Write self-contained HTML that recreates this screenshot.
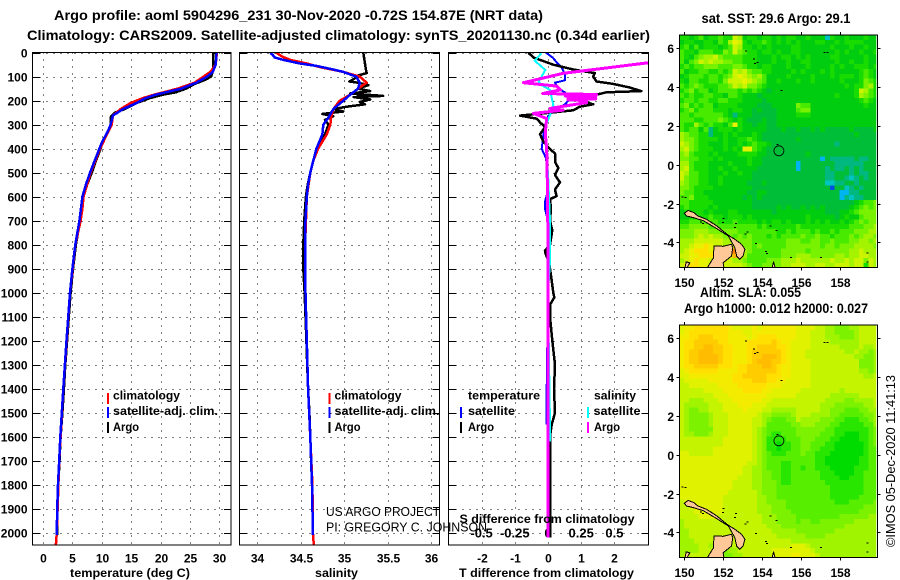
<!DOCTYPE html>
<html lang="en">
<head>
<meta charset="utf-8">
<title>Argo profile</title>
<style>
html,body{margin:0;padding:0;background:#fff;width:900px;height:580px;overflow:hidden}
svg{display:block}
text{font-family:"Liberation Sans",sans-serif;fill:#000}
.b{font-weight:bold;font-size:12px}
.s{font-weight:bold;font-size:13px}
.t{font-weight:bold;font-size:13.5px}
.n{font-weight:normal;font-size:13px}
</style>
</head>
<body>
<svg id="root" xmlns="http://www.w3.org/2000/svg" width="900" height="580" viewBox="0 0 900 580">
<defs>
<clipPath id="c1"><rect x="33" y="53" width="198" height="492"/></clipPath>
<clipPath id="c2"><rect x="240" y="53" width="199.5" height="492"/></clipPath>
<clipPath id="c3"><rect x="449" y="53" width="199" height="492"/></clipPath>
<clipPath id="m1"><rect x="679.3" y="35" width="197" height="232.3"/></clipPath>
<clipPath id="m2"><rect x="679.3" y="325" width="197" height="232.3"/></clipPath>
</defs>
<rect x="0" y="0" width="900" height="580" fill="#fff"/>

<text class="t" x="54" y="20" textLength="489" lengthAdjust="spacingAndGlyphs">Argo profile: aoml 5904296_231 30-Nov-2020 -0.72S 154.87E (NRT data)</text>
<text class="t" x="27" y="40" textLength="623" lengthAdjust="spacingAndGlyphs">Climatology: CARS2009. Satellite-adjusted climatology: synTS_20201130.nc (0.34d earlier)</text>

<g id="panel1"></g>
<g id="panel2"></g>
<g id="panel3"></g>
<g id="map1"></g>
<g id="map2"></g>

<text class="b" x="70" y="577" textLength="120" lengthAdjust="spacingAndGlyphs">temperature (deg C)</text>
<text class="b" x="315" y="577" textLength="43" lengthAdjust="spacingAndGlyphs">salinity</text>
<text class="b" x="459" y="577" textLength="175" lengthAdjust="spacingAndGlyphs">T difference from climatology</text>
<text class="b" x="459.5" y="523" textLength="175" lengthAdjust="spacingAndGlyphs">S difference from climatology</text>

<g>
<rect x="107" y="393" width="2" height="11" fill="#f00"/>
<text class="b" x="113" y="399.5" textLength="67" lengthAdjust="spacingAndGlyphs">climatology</text>
<rect x="107" y="407" width="2" height="11" fill="#00f"/>
<text class="b" x="113" y="415" textLength="105" lengthAdjust="spacingAndGlyphs">satellite-adj. clim.</text>
<rect x="107" y="422" width="2" height="11" fill="#000"/>
<text class="b" x="113" y="431" textLength="26" lengthAdjust="spacingAndGlyphs">Argo</text>
</g>
<g>
<rect x="328.5" y="393" width="2" height="11" fill="#f00"/>
<text class="b" x="334.5" y="399.5" textLength="67" lengthAdjust="spacingAndGlyphs">climatology</text>
<rect x="328.5" y="407" width="2" height="11" fill="#00f"/>
<text class="b" x="334.5" y="415" textLength="105" lengthAdjust="spacingAndGlyphs">satellite-adj. clim.</text>
<rect x="328.5" y="422" width="2" height="11" fill="#000"/>
<text class="b" x="334.5" y="431" textLength="26" lengthAdjust="spacingAndGlyphs">Argo</text>
</g>
<g>
<text class="b" x="468" y="399.5" textLength="72" lengthAdjust="spacingAndGlyphs">temperature</text>
<rect x="460" y="407" width="2" height="11" fill="#00f"/>
<text class="b" x="468" y="415" textLength="47" lengthAdjust="spacingAndGlyphs">satellite</text>
<rect x="460" y="422" width="2" height="11" fill="#000"/>
<text class="b" x="468" y="431" textLength="26" lengthAdjust="spacingAndGlyphs">Argo</text>
<text class="b" x="594" y="399.5" textLength="42" lengthAdjust="spacingAndGlyphs">salinity</text>
<rect x="587" y="407" width="2" height="11" fill="#0ff"/>
<text class="b" x="593.5" y="415" textLength="47" lengthAdjust="spacingAndGlyphs">satellite</text>
<rect x="587" y="422" width="2" height="11" fill="#f0f"/>
<text class="b" x="594" y="431" textLength="26" lengthAdjust="spacingAndGlyphs">Argo</text>
</g>

<text class="n" x="326" y="516" textLength="114" lengthAdjust="spacingAndGlyphs">US ARGO PROJECT</text>
<text class="n" x="326" y="531.5" textLength="161" lengthAdjust="spacingAndGlyphs">PI: GREGORY C. JOHNSON</text>

<text class="t" x="701.5" y="23" textLength="149" lengthAdjust="spacingAndGlyphs">sat. SST: 29.6 Argo: 29.1</text>
<text class="t" x="700" y="297" textLength="101" lengthAdjust="spacingAndGlyphs">Altim. SLA: 0.055</text>
<text class="t" x="684" y="313" textLength="184" lengthAdjust="spacingAndGlyphs">Argo h1000: 0.012 h2000: 0.027</text>
<text class="n" transform="translate(895,547) rotate(-90)" textLength="172" lengthAdjust="spacingAndGlyphs">©IMOS 05-Dec-2020 11:41:13</text>
</svg>

<script>
// ---------- tick labels ----------
const depthTicks = [0,100,200,300,400,500,600,700,800,900,1000,1100,1200,1300,1400,1500,1600,1700,1800,1900,2000];
const tempTicks = [0,5,10,15,20,25,30];
const salTicks = [34,34.5,35,35.5,36];
const diffTTicks = [-2,-1,0,1,2];
const diffSTicks = [-0.5,-0.25,0,0.25,0.5];
const lonTicks = [150,152,154,156,158];
const latTicks = [6,4,2,0,-2,-4];

// ---------- temperature panel ----------
const tempArgoDepth = [0,70,100,115,130,150,165,175,190,210,235,250,262,270,300,330,370,400,450,500,550,600,700,800,900,1000,1100,1200,1300,1400,1500,1600,1700,1800,1900,2000,2010];
const tempArgo = [29,29,28.6,27.4,25.8,24.3,22.6,20.4,18.1,15.9,13.9,12.2,11.7,11.5,11.5,11,10.2,9.8,9,8.3,7.5,6.9,6.3,5.6,5.1,4.7,4.4,4.1,3.8,3.55,3.3,3,2.8,2.6,2.45,2.4,2.38];
const tempSatDepth = [0,50,80,100,125,150,175,190,210,235,262,300,330,370,400,450,500,550,600,700,800,900,1000,1200,1400,1500,1600,1700,1800,1900,2000,2010];
const tempSat = [29.55,29.4,28.9,27.9,26.1,23.5,19.2,17.4,15.9,13.6,11.9,11.5,11,10.1,9.6,8.8,8,7.3,6.7,6.2,5.5,5,4.6,4,3.45,3.2,2.95,2.75,2.55,2.42,2.35,2.34];
const tempClimDepth = [0,50,80,100,125,150,175,190,210,235,262,300,370,400,500,600,650,700,800,1000,1400,1700,2000,2050];
const tempClim = [29.6,29.4,28.5,27.3,25.8,22.9,18.9,16.9,14.9,13.2,11.9,11.7,10.3,9.7,8.1,6.9,6.7,6.4,5.5,4.6,3.45,2.75,2.35,2.2];

// ---------- salinity panel ----------
const salArgoDepth = [0,70,85,95,110,120,125,135,150,160,170,180,185,195,205,215,225,235,245,255,265,280,300,340,400,450,500,550,600,700,800,900,1000,1100,1200,1300,1400,1500,1600,1700,1800,1900,2000,2010];
const salArgo = [35.22,35.25,35.26,35.16,35.11,35.06,35.16,35.28,35.16,35.30,35.07,35.45,35.11,35.30,35.18,35.24,35.03,34.875,34.99,34.75,34.875,34.78,34.82,34.78,34.68,34.645,34.61,34.58,34.56,34.54,34.53,34.53,34.545,34.555,34.565,34.575,34.585,34.6,34.61,34.62,34.63,34.637,34.64,34.64];
const salSatDepth = [0,10,20,30,45,55,70,80,100,125,150,175,200,235,270,300,340,400,450,500,550,600,700,800,900,1000,1200,1400,1600,1800,2000,2010];
const salSat = [34.15,34.18,34.2,34.3,34.49,34.68,34.875,34.99,35.14,35.18,35.16,35.07,34.99,34.875,34.82,34.76,34.75,34.68,34.645,34.61,34.585,34.57,34.555,34.55,34.55,34.555,34.57,34.585,34.61,34.63,34.64,34.64];
const salClimDepth = [0,15,30,45,60,80,100,125,150,175,200,235,270,300,340,400,450,500,600,800,1000,1400,1800,2000,2050];
const salClim = [34.22,34.28,34.38,34.57,34.72,34.99,35.18,35.26,35.16,35.07,34.95,34.875,34.85,34.84,34.8,34.7,34.645,34.61,34.57,34.55,34.555,34.585,34.635,34.64,34.65];

// ---------- difference panel ----------
const diffTArgoDepth = [0,20,35,50,70,85,100,120,130,145,160,165,175,190,215,225,240,250,262,275,290,310,340,370,395,420,455,480,510,540,570,598,610,650,700,740,800,825,840,870,900,950,1000,1020,1050,1100,1200,1300,1400,1500,1550,1600,1700,1800,1900,2000,2020];
const diffTArgo = [-.59,-.44,-.14,.16,.76,1.41,1.36,1.46,1.96,2.46,2.81,1.76,1.46,.66,1.36,.96,.76,.06,-.84,-.34,-.24,-.09,-.24,-.14,.01,.21,.21,.31,.21,.36,.21,.26,.06,.09,.06,.13,.06,-.09,-.07,.03,.06,.11,.16,.19,.06,.06,.13,.21,.18,.21,.11,.06,.06,.06,.06,.06,.06];
const diffTSatDepth = [0,20,40,60,90,115,125,150,165,180,200,215,245,265,300,340,400,440,500,570,620,650,700,1000,1400,1550];
const diffTSat = [-.06,.14,.26,.41,.51,.51,.21,.31,.51,.61,.61,.51,.16,0,-.09,-.14,-.19,-.06,-.02,.01,-.09,-.09,0,0,-.04,-.04];
const diffSSatDepth = [3,33,72,121,135,155,218,260,301,364,500,700,870,1000,1550,1620];
const diffSSat = [-.05,-.10,-.02,-.07,-.05,.015,.04,.015,-.015,-.02,0,.015,.015,0,.015,.015];
const diffSArgoDepth = [0,30,42,86,125,139,155,170,174,180,184,188,192,196,200,208,232,239,253,274,301,336,405,530,800,1200,2020];
const diffSArgo = [1,.84,.7525,.115,-.185,.065,.095,-.04,.365,.13,.36,.15,.36,.15,.29,.29,.015,.115,-.11,-.01,-.015,-.02,-.01,-.005,0,0,0];

// ---------- map cell levels (one hex digit per 1/4 degree cell, north to south) ----------
const sstRows = [
"6656756676 6a95665665 6566556555 2655655565 5",
"5665566576 9ba6566765 6565655566 5565666655 5",
"6757566656 7a96656565 5556655555 5655565565 5",
"7665777668 7a87665665 6556655555 5565655655 6",
"7657899a87 7776665556 5665656555 5665555565 5",
"7578a9a998 8776665556 5565566555 5565565565 5",
"6767788877 7887665665 5565556555 5656556665 6",
"7566776676 7a9a877665 5556565556 5655555676 5",
"5677767767 8aba989755 5565555655 5656665676 5",
"6577667768 aaaba98755 6555655655 5556555687 6",
"7678766677 8a9a887655 5555555555 5555656689 6",
"6786775677 7767676545 5555555555 5555556a97 6",
"7676677665 7765554555 5555555555 5565556987 6",
"6776776677 6665555455 5555555555 5555555676 5",
"7867677566 6655554445 5555877555 5555555565 5",
"6786777666 5665545444 5555788555 5555555555 5",
"7767777776 5355544444 5555666555 5555555555 5",
"7776677787 6565444544 5555555555 5555555555 5",
"7669767665 7b65545544 5555555555 5555555555 5",
"7677573566 6565555544 4544544545 4444454444 5",
"9877663556 5655565444 4444444444 4444445444 4",
"9887666656 5566765444 4444544444 4444444444 4",
"a987665556 5565676654 4444444444 4434444444 4",
"9a87666556 565bb76544 4444444444 4444444444 4",
"8976665655 5566665544 4444445444 4444444444 4",
"8877666565 5555655444 4444444441 4333334334 4",
"9976665555 6555655444 4444144444 4433333344 4",
"9a76665565 5655554444 4444144444 3433434344 4",
"a977665556 5565544444 4444444444 3344434334 4",
"a877665565 5555544444 4444444444 3344323434 4",
"9877665565 5555444544 4444444444 2233443444 4",
"8876666555 5555544444 4444444444 4044234344 4",
"8776655555 5555445544 4444444444 4441133444 4",
"7786665555 5554545444 4444444444 4441323344 4",
"7766666555 5555544444 4444444444 4444445677 8",
"6766665655 5555544444 5454454545 4444456787 8",
"5666656555 6655555554 5555555555 4445567888 8",
"5566667665 6665655555 5555556555 5545655788 8",
"6677777766 6766665656 6565556565 6556567878 8",
"7788887777 7777776766 6666766666 6666677788 9",
"8889998888 8877777777 6676777676 6767778889 9",
"8889a9a998 8787877767 6777787787 7677787899 8",
"999aaaaaa9 9988877777 7788877887 7877788998 9",
"99abbcbaa9 aa98878777 7788888887 8878889999 8",
"9abcccbbaa aea9877777 7888887888 8888899a99 9",
"aabbcccbba ade9777777 7888999888 8899899aa9 9",
"9abcbbaaaa a998777788 8999a99999 9a99a9aa8a 9",
"abccbbaaaa aaa9877888 899aaa99aa 99aaa9aa6a 9"
];
const slaRows = [
"bccddddddd cbbbbcbccc ccccbbbbaa 9988899aaa a",
"bcdddddddd cccbbccccc ccccbbbaaa 9988889aaa a",
"ccddeeeddd ccccbcdddd ccccbbbaaa 9998889aaa a",
"cddeeeeedd ccccddddde dccbbbbaaa a999999aaa a",
"cddeeffeed dcccddeeee ddcbbbbaaa aaa9999a99 a",
"cdeefffeed dcccdeeeee edcbbbaaaa aaaa99a998 9",
"cdeeffffed dcccdeefff edcbbbaaaa aaaaaa9988 9",
"cdeeffffed dcccdefffe edcbbbbaaa aaaaaaa888 9",
"cddeeeeedd dcddeeeffe dccbbbbaaa aaaaaaa888 9",
"bcddddddcc ccddeeeeee dccbbbbaaa aaaaaaa998 9",
"bbcccccccc cddeeeeedd dccbbbbaaa aaaaaaaa99 a",
"abbbbbcccc cddddeeedd ccbbbbbaaa aaaaaaaaaa a",
"aabbbbbbcc ccddddddcc cbbbbbbaaa aaaaaaaaaa a",
"aaaaabbbbc cccddddccb bbbbbaaaaa aaa9aaaaaa a",
"aaaaaaabbb ccccccccbb bbbbaaaaaa a999999aaa a",
"aa999aaabb bccccccbba aaaaaaaaaa 9999889999 a",
"a99999aaab bbcccbbbaa aaaaaaaaa9 9988888899 a",
"a98899aaab bbbcbbbaa9 9999aaaaa9 9888777889 9",
"a988889aaa bbbbbba998 8889aaa999 9887777788 9",
"a988889aaa bbbbbaa987 7788a99998 8877666778 9",
"a988889aaa bbbbbaa977 7778899988 8776666677 9",
"a988888aaa bbbbba9877 7777888888 7766666667 8",
"a998889aaa bbbbba9876 6777888887 7766555667 8",
"aaaaaaaaab bbbbba9866 6677788877 7665555667 8",
"aaaaaaaaab bbbbba9866 5667788777 6655555567 8",
"aaaaaaabbb bbbbba9866 5667788776 6655555567 7",
"bbaaaaabbb bbbbba9876 6677787766 6555555567 7",
"bbbbbbbbbb bbbbba9877 7777777766 5555555667 7",
"bbbbbbbbbb bbbbaa9877 7667777766 5555555667 7",
"bbbbbbbbbb bbbaa99877 7667767766 6555556667 7",
"bbbbbbbbbb bbbaa99887 7667777776 6655556677 7",
"bbbbbbbbbb bbaaa99887 7667777776 6665566677 7",
"bbbbbbbbbb baaaa99888 7667777777 6666666677 7",
"bbbbbbbbbb baaaa99888 7777777777 7666666677 7",
"bbbbbbbbbb aaaaaa9888 7777777777 7666666677 7",
"bbbbbbbbba aaaaaa9988 7777777777 7666666777 7",
"abbbbbbbba aaaaaa9988 8877777777 7766677777 8",
"aabbbbbbba aaaaaa9998 8877777777 7777777788 8",
"aaabbbbbba aaaaaa9998 8887777777 7777777888 8",
"aaaabbbbaa aaaaaaa999 8888777777 7778888889 9",
"9aaaaaaaaa aaaaaaa999 8888788778 8888889999 9",
"9aaaaaaaaa aaaaaaaa99 9888888888 8888999999 9",
"99aaaaaaaa aaaaaaaaa9 9999888888 8899999999 9",
"99aaaaaaaa aaaaaaaaaa 9999998888 9999999999 9",
"999aaaa99a aaaaaaaaaa aaa9999999 9999999999 9",
"9999aa9999 9aaaaaaaaa aaabbba999 9999999999 9",
"9999aaa998 99aaaaaaab bbbbbbba99 9999999999 9",
"9aaaaaa988 899aaaaaab bbbccbbba9 9999999999 9"
];

// ---------- geography (lon, lat) ----------
const landLonNewIreland = [150,150.2,150.5,150.7,151.15,151.67,152.2,152.6,152.95,153.12,153.03,152.86,152.7,152.6,152.27,151.67,150.98,150.46,150.12];
const landLatNewIreland = [-2.5,-2.35,-2.47,-2.64,-2.81,-3.15,-3.58,-3.84,-4.1,-4.35,-4.7,-4.87,-4.7,-4.27,-3.67,-3.29,-2.88,-2.72,-2.64];
const landLonNewBritain = [151.06,151.5,151.53,152.0,152.43,152.5,152.43,152.0,152.08];
const landLatNewBritain = [-5.5,-4.8,-4.18,-4.2,-4.1,-4.27,-4.7,-5.05,-5.5];
const landLonBuka = [154.47,154.6,154.72];
const landLatBuka = [-5.5,-5.0,-5.5];
const landLonSmall = [150,150.1,150.28,150.1];
const landLatSmall = [-5.5,-5.0,-5.05,-5.4];
const islandLon = [153.12,153.55,153.72,153.6,154.96,157.16,157.33,154.75,149.86,150,150.8,151.97,151.95,152.6,152.55,153.2,153.1,153.64,154.15,154.2,154.4,154.7,155.44,156.98,159.39,159.39,150.9];
const islandLat = [5.88,5.49,5.31,5.25,3.85,5.81,5.81,1.06,-1.64,-1.67,-2.93,-2.75,-2.95,-3.0,-3.2,-3.44,-3.55,-4.04,-4.44,-4.55,-3.13,-3.35,-4.74,-4.74,-4.52,-4.98,-3.0];
const floatLon = [154.87];
const floatLat = [0.72];

// ---------- axis functions ----------
const yDepth = d => 52.7 + d * 0.24;
const xTemp = t => 43 + t * 5.875;
const xSal = s => 257.3 + (s - 34) * 86.85;
const xDiffT = v => 548 + v * 33.2;
const xDiffS = v => 548 + v * 132.8;
const xLon = lon => 684.3 + (lon - 150) * 19.42;
const yLat = (lat, off) => 164.8 + off - lat * 19.4;

// ---------- colour scales ----------
function sstColor(level) {
  return ["#0050e0","#00b4f0","#00c4c0","#00b880","#00be38","#00cc10","#18dc00","#48ea00","#78f200","#a4f400","#ccf400","#e8f200","#ffe000","#ffb000","#ff8000"][level];
}
function slaColor(level) {
  return ["#00c000","#00c000","#00c000","#00c000","#00c800","#00dc00","#28e600","#58ee00","#7cf200","#a0f400","#c4f400","#e0f200","#f4ec00","#ffe000","#ffcc00","#ffbc00"][level];
}

const SVGNS = "http://www.w3.org/2000/svg";
function make(parent, tag, name, interactable) {
  const el = document.createElementNS(SVGNS, tag);
  
  
  parent.appendChild(el);
  return el;
}
function addLine(parent, name, x1, y1, x2, y2, width, dash) {
  const l = make(parent, 'line', name, 'false');
  l.setAttribute('x1', x1); l.setAttribute('y1', y1);
  l.setAttribute('x2', x2); l.setAttribute('y2', y2);
  l.setAttribute('stroke', '#000');
  l.setAttribute('stroke-width', width);
  l.setAttribute('shape-rendering', 'crispEdges');
  if (dash) l.setAttribute('stroke-dasharray', dash);
  return l;
}
function addText(parent, name, str, x, y, anchor, extraClass) {
  const t = make(parent, 'text', name, 'false');
  t.setAttribute('class', extraClass || 'b');
  t.setAttribute('x', x);
  t.setAttribute('y', y);
  t.setAttribute('text-anchor', anchor);
  t.textContent = str;
  return t;
}
function addSeries(parent, name, depths, values, xFn, color, width, clip) {
  const pts = depths.map((d, i) => xFn(values[i]).toFixed(1) + ',' + yDepth(d).toFixed(1)).join(' ');
  const p = make(parent, 'polyline', name, 'false');
  p.setAttribute('points', pts);
  p.setAttribute('fill', 'none');
  p.setAttribute('stroke', color);
  p.setAttribute('stroke-width', width);
  p.setAttribute('stroke-linejoin', 'round');
  p.setAttribute('clip-path', 'url(#' + clip + ')');
  p.setAttribute('shape-rendering', 'crispEdges');
}
function addFrame(parent, name, x, y, w, h) {
  const r = make(parent, 'rect', name, 'false');
  r.setAttribute('x', x); r.setAttribute('y', y);
  r.setAttribute('width', w); r.setAttribute('height', h);
  r.setAttribute('fill', 'none');
  r.setAttribute('stroke', '#000');
  r.setAttribute('stroke-width', 1);
  r.setAttribute('shape-rendering', 'crispEdges');
}
const DOTS = '1 6';
function drawPanel(g, left, right, xTicks, xFn, xLabels, showDepthLabels) {
  const top = 52.5, bottom = 545;
  depthTicks.forEach(d => {
    const y = Math.round(yDepth(d));
    addLine(g, 'depth-gridline-' + d, left, y + .5, right, y + .5, 1, DOTS);
    addLine(g, 'depth-tick-left-' + d, left, y + .5, left + 7, y + .5, 1);
    addLine(g, 'depth-tick-right-' + d, right - 7, y + .5, right, y + .5, 1);
    if (showDepthLabels) addText(g, 'depth-label-' + d, String(d), 27.5, y + 4.5, 'end');
  });
  xTicks.forEach((v, i) => {
    const x = Math.round(xFn(v));
    addLine(g, 'x-gridline-' + v, x + .5, top, x + .5, bottom, 1, DOTS);
    addText(g, 'x-label-' + v, xLabels[i], x + .5, 562.5, 'middle');
  });
}

// panels
const p1 = document.getElementById('panel1');
drawPanel(p1, 32.5, 231, tempTicks, xTemp, tempTicks.map(String), true);
addSeries(p1, 'temperature-argo-line', tempArgoDepth, tempArgo, xTemp, '#000', 2.5, 'c1');
addSeries(p1, 'temperature-climatology-line', tempClimDepth, tempClim, xTemp, '#f00', 2.5, 'c1');
addSeries(p1, 'temperature-satellite-line', tempSatDepth, tempSat, xTemp, '#00f', 2.5, 'c1');
addFrame(p1, 'temperature-frame', 32.5, 52.5, 198.5, 492.5);

const p2 = document.getElementById('panel2');
drawPanel(p2, 239.5, 439.5, salTicks, xSal, salTicks.map(String), false);
addSeries(p2, 'salinity-argo-line', salArgoDepth, salArgo, xSal, '#000', 2.5, 'c2');
addSeries(p2, 'salinity-climatology-line', salClimDepth, salClim, xSal, '#f00', 2.5, 'c2');
addSeries(p2, 'salinity-satellite-line', salSatDepth, salSat, xSal, '#00f', 2.5, 'c2');
addFrame(p2, 'salinity-frame', 239.5, 52.5, 200, 492.5);

const p3 = document.getElementById('panel3');
drawPanel(p3, 448.5, 648.5, diffTTicks, xDiffT, diffTTicks.map(String), false);
diffSTicks.forEach(v => {
  addText(p3, 's-diff-label-' + v, String(v), xDiffS(v), 537.5, 'middle', 's');
});
addSeries(p3, 't-diff-satellite-line', diffTSatDepth, diffTSat, xDiffT, '#00f', 2, 'c3');
addSeries(p3, 't-diff-argo-line', diffTArgoDepth, diffTArgo, xDiffT, '#000', 2.5, 'c3');
addSeries(p3, 's-diff-satellite-line', diffSSatDepth, diffSSat, xDiffS, '#0ff', 2, 'c3');
addSeries(p3, 's-diff-argo-line', diffSArgoDepth, diffSArgo, xDiffS, '#f0f', 3, 'c3');
addFrame(p3, 'difference-frame', 448.5, 52.5, 200, 492.5);

// maps
function addLand(g, name, lons, lats, off) {
  const p = make(g, 'polygon', name, 'false');
  p.setAttribute('points', lons.map((lo, i) => xLon(lo).toFixed(1) + ',' + yLat(lats[i], off).toFixed(1)).join(' '));
  p.setAttribute('fill', '#ffc896');
  p.setAttribute('stroke', '#000');
  p.setAttribute('stroke-width', 1);
  p.setAttribute('shape-rendering', 'crispEdges');
}
function drawMap(gId, rows, colorFn, off, clip) {
  const g = document.getElementById(gId);
  const cells = make(g, 'g', 'map-cells', 'false');
  cells.setAttribute('clip-path', 'url(#' + clip + ')');
  cells.setAttribute('shape-rendering', 'crispEdges');
  rows.forEach((row, r) => {
    const s = row.replace(/ /g, '');
    for (let c = 0; c < s.length; c++) {
      const lon = 149.74 + c * 0.25;
      const lat = 6.69 - r * 0.25;
      const cell = make(cells, 'rect', 'map-cell', 'false');
      cell.setAttribute('x', xLon(lon).toFixed(2));
      cell.setAttribute('y', yLat(lat, off).toFixed(2));
      cell.setAttribute('width', 5);
      cell.setAttribute('height', 5);
      cell.setAttribute('fill', colorFn(parseInt(s[c], 16)));
    }
  });
  const land = make(g, 'g', 'land', 'false');
  land.setAttribute('clip-path', 'url(#' + clip + ')');
  addLand(land, 'new-britain', landLonNewBritain, landLatNewBritain, off);
  addLand(land, 'new-ireland', landLonNewIreland, landLatNewIreland, off);
  addLand(land, 'bougainville-tip', landLonBuka, landLatBuka, off);
  addLand(land, 'small-coast', landLonSmall, landLatSmall, off);
  islandLon.forEach((lo, i) => {
    const d = make(land, 'rect', 'island', 'false');
    d.setAttribute('x', xLon(lo).toFixed(1));
    d.setAttribute('y', yLat(islandLat[i], off).toFixed(1));
    d.setAttribute('width', 2);
    d.setAttribute('height', 1);
    d.setAttribute('fill', '#000');
    d.setAttribute('shape-rendering', 'crispEdges');
  });
  const mk = make(g, 'circle', 'argo-float-marker', 'false');
  mk.setAttribute('cx', xLon(floatLon[0]).toFixed(1));
  mk.setAttribute('cy', yLat(floatLat[0], off).toFixed(1));
  mk.setAttribute('r', 5);
  mk.setAttribute('fill', 'none');
  mk.setAttribute('stroke', '#000');
  mk.setAttribute('stroke-width', 0.8);

  const L = 679.3, R = 877.3, T = 35 + off, B = 267.3 + off;
  addFrame(g, 'map-frame', L, T, R - L, B - T);
  lonTicks.forEach(lo => {
    const x = Math.round(xLon(lo)) + .5;
    addLine(g, 'lon-tick-top-' + lo, x, T - 3, x, T, 1);
    addLine(g, 'lon-tick-bottom-' + lo, x, B, x, B + 3, 1);
    addText(g, 'lon-label-' + lo, String(lo), x, 287 + off, 'middle');
  });
  latTicks.forEach(la => {
    const y = Math.round(yLat(la, off)) + .5;
    addLine(g, 'lat-tick-left-' + la, L - 3, y, L, y, 1);
    addLine(g, 'lat-tick-right-' + la, R, y, R + 3, y, 1);
    addText(g, 'lat-label-' + la, String(la), 674, y + 4.5, 'end');
  });
}
drawMap('map1', sstRows, sstColor, 0, 'm1');
drawMap('map2', slaRows, slaColor, 290, 'm2');
</script>
</body>
</html>
